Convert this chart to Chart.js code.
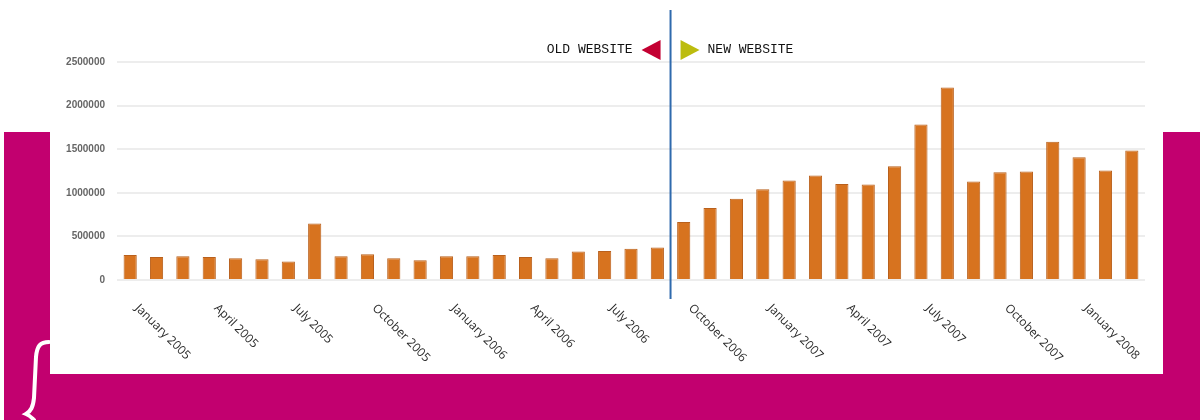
<!DOCTYPE html>
<html>
<head>
<meta charset="utf-8">
<script src="https://cdn.jsdelivr.net/npm/chart.js@4/dist/chart.umd.min.js"></script>
<style>
    html, body { margin: 0; padding: 0; background: #fff; }
    .stage { position: relative; width: 1200px; height: 420px; overflow: hidden; background: #fff; }
    .magenta { position: absolute; left: 4px; top: 132px; width: 1196px; height: 288px; background: #c2006f; }
    .panel { position: absolute; left: 50px; top: 0; width: 1113px; height: 374px; background: #fff; }
    .brace { position: absolute; left: 0; top: 0; }
    canvas { position: absolute; left: 0; top: 0; }
</style>
</head>
<body>
<div class="stage">
    <div class="magenta"></div>
    <div class="panel"></div>
    <svg class="brace" width="1200" height="420">
        <path d="M49,342 C40,342 37,346 36,357 L34,398 C33,407 31,411 26,414 C31,416 32,418 34,420"
              fill="none" stroke="#fff" stroke-width="4" stroke-linecap="round"/>
    </svg>
    <canvas id="chart" width="1200" height="420"></canvas>
</div>
<script>
// monthly visits, Jan 2005 .. Mar 2008
const months = [
    'January 2005', 'February 2005', 'March 2005', 'April 2005', 'May 2005', 'June 2005',
    'July 2005', 'August 2005', 'September 2005', 'October 2005', 'November 2005', 'December 2005',
    'January 2006', 'February 2006', 'March 2006', 'April 2006', 'May 2006', 'June 2006',
    'July 2006', 'August 2006', 'September 2006', 'October 2006', 'November 2006', 'December 2006',
    'January 2007', 'February 2007', 'March 2007', 'April 2007', 'May 2007', 'June 2007',
    'July 2007', 'August 2007', 'September 2007', 'October 2007', 'November 2007', 'December 2007',
    'January 2008', 'February 2008', 'March 2008'
];
const visits = [
    288000, 265000, 273000, 265000, 250000, 238000, 211000, 649000, 273000, 296000, 250000, 227000,
    273000, 273000, 288000, 265000, 250000, 326000, 334000, 357000, 372000, 664000, 826000, 933000,
    1041000, 1141000, 1198000, 1102000, 1094000, 1305000, 1782000, 2208000, 1129000, 1236000, 1244000, 1586000,
    1409000, 1256000, 1486000
];
const yTicks = [0, 500000, 1000000, 1500000, 2000000, 2500000];
const shownLabels = [0, 3, 6, 9, 12, 15, 18, 21, 24, 27, 30, 33, 36];
const switchIndex = 20; // last month of the old website

const overlay = {
    id: 'overlay',
    afterDraw(chart) {
        const { ctx } = chart;
        const x = chart.scales.x;
        const y = chart.scales.y;

        // rotated month labels
        ctx.save();
        ctx.font = '12px "Open Sans", sans-serif';
        ctx.fillStyle = '#2a2a2a';
        ctx.textAlign = 'left';
        ctx.textBaseline = 'top';
        shownLabels.forEach(i => {
            ctx.save();
            ctx.translate(x.getPixelForValue(i) + 11, y.bottom + 22);
            ctx.rotate(Math.PI / 4);
            ctx.fillText(months[i], 0, 0);
            ctx.restore();
        });
        ctx.restore();

        // old / new website divider
        const lx = (x.getPixelForValue(switchIndex) + x.getPixelForValue(switchIndex + 1)) / 2;
        ctx.save();
        ctx.strokeStyle = '#2f6aad';
        ctx.lineWidth = 2;
        ctx.beginPath();
        ctx.moveTo(lx, 10);
        ctx.lineTo(lx, y.bottom + 19);
        ctx.stroke();

        const cy = 50;
        ctx.fillStyle = '#c30032';
        ctx.beginPath();
        ctx.moveTo(lx - 10, cy - 10);
        ctx.lineTo(lx - 10, cy + 10);
        ctx.lineTo(lx - 29, cy);
        ctx.closePath();
        ctx.fill();

        ctx.fillStyle = '#bcbc0e';
        ctx.beginPath();
        ctx.moveTo(lx + 10, cy - 10);
        ctx.lineTo(lx + 10, cy + 10);
        ctx.lineTo(lx + 29, cy);
        ctx.closePath();
        ctx.fill();

        ctx.font = '13px "Liberation Mono", "DejaVu Sans Mono", monospace';
        ctx.fillStyle = '#111';
        ctx.textBaseline = 'middle';
        ctx.textAlign = 'right';
        ctx.fillText('OLD WEBSITE', lx - 38, cy);
        ctx.textAlign = 'left';
        ctx.fillText('NEW WEBSITE', lx + 37, cy);
        ctx.restore();
    }
};

new Chart(document.getElementById('chart'), {
    type: 'bar',
    data: {
        labels: months,
        datasets: [{
            data: visits,
            backgroundColor: '#d7731f',
            borderColor: '#b9601c',
            borderWidth: 1,
            categoryPercentage: 1,
            barPercentage: 0.5
        }]
    },
    options: {
        responsive: false,
        animation: false,
        events: [],
        layout: { padding: { left: 50, right: 55, top: 62, bottom: 132 } },
        plugins: { legend: { display: false }, tooltip: { enabled: false } },
        scales: {
            x: {
                grid: { display: false },
                border: { display: false },
                ticks: { display: false }
            },
            y: {
                min: 0,
                max: 2500000,
                afterFit: s => { s.width = 67; },
                afterBuildTicks: s => { s.ticks = yTicks.map(v => ({ value: v })); },
                grid: { color: '#ededed', lineWidth: 2, drawTicks: false },
                border: { display: false },
                ticks: {
                    padding: 12,
                    color: '#666',
                    font: { family: 'Arial, "Liberation Sans", sans-serif', size: 10, weight: 'bold' },
                    callback: v => String(v)
                }
            }
        }
    },
    plugins: [overlay]
});
</script>
</body>
</html>
